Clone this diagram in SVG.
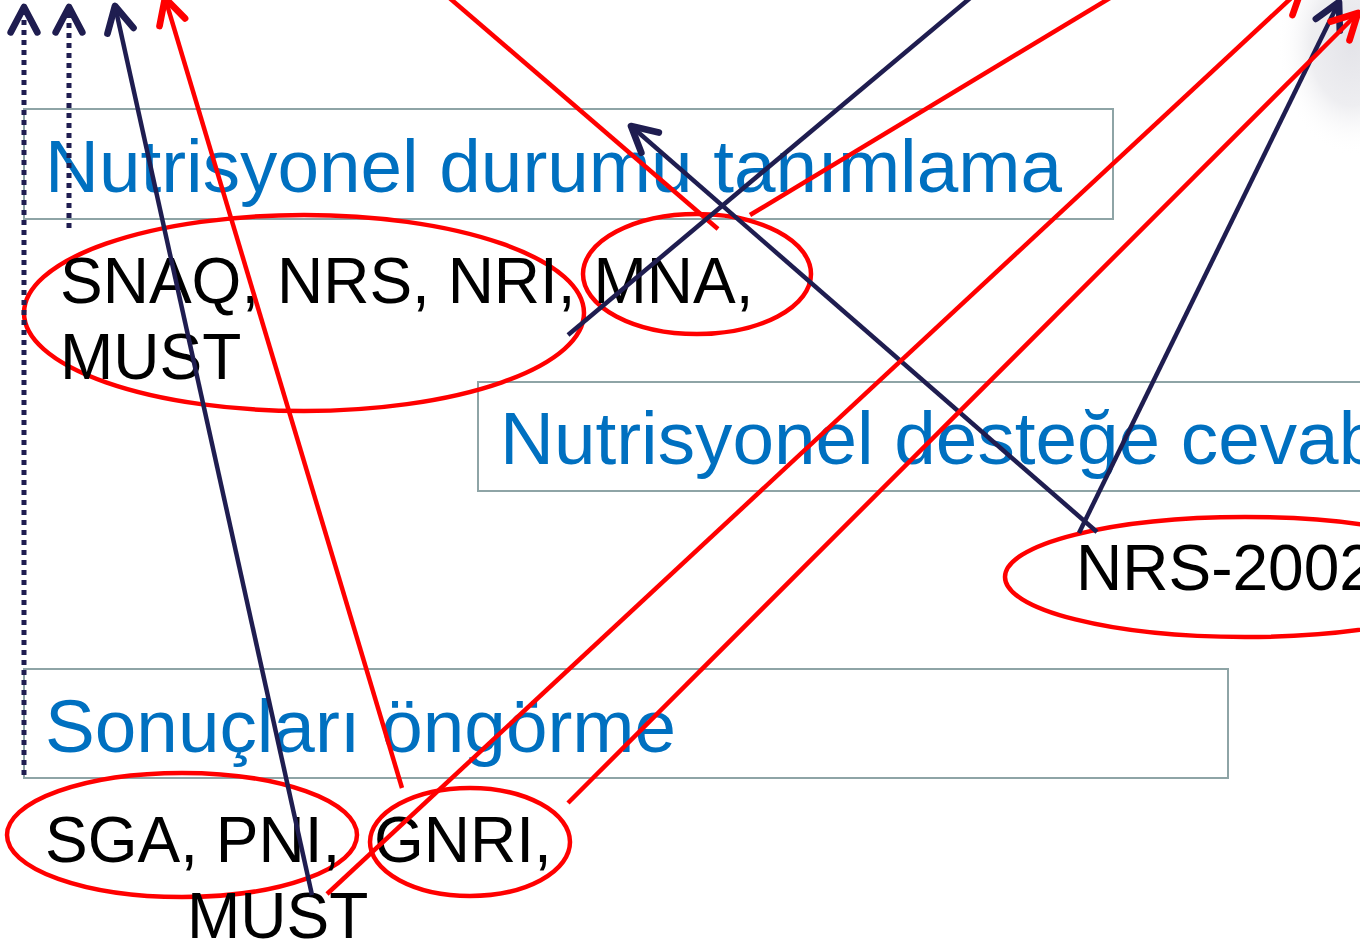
<svg xmlns="http://www.w3.org/2000/svg" width="1360" height="941" viewBox="0 0 1360 941">
<style>
.box{fill:none;stroke:#8ea4a6;stroke-width:2}
.title{font-family:"Liberation Sans",Arial,sans-serif;font-size:74.7px;fill:#0070c0}
.lbl{font-family:"Liberation Sans",Arial,sans-serif;font-size:64px;fill:#000}
.ell{fill:none;stroke:#ff0000;stroke-width:4.5}
.nv{fill:none;stroke:#1f1d50;stroke-width:4.5}
.rd{fill:none;stroke:#ff0000;stroke-width:4.5}
.dot{fill:none;stroke:#1f1d50;stroke-width:5;stroke-dasharray:5 5}
</style>
<defs>
<marker id="an" markerUnits="userSpaceOnUse" orient="auto" markerWidth="40" markerHeight="40" refX="0" refY="0" viewBox="-25 -15 30 30" overflow="visible">
<path d="M-19,-10 L0,0 L-19,10" fill="none" stroke="#1f1d50" stroke-width="5" stroke-linecap="round" stroke-linejoin="round"/>
</marker>
<marker id="ar" markerUnits="userSpaceOnUse" orient="auto" markerWidth="40" markerHeight="40" refX="0" refY="0" viewBox="-25 -15 30 30" overflow="visible">
<path d="M-19,-10 L0,0 L-19,10" fill="none" stroke="#ff0000" stroke-width="5" stroke-linecap="round" stroke-linejoin="round"/>
</marker>
<radialGradient id="gb" cx="0.5" cy="0.5" r="0.5">
<stop offset="0" stop-color="#e4e4e9"/>
<stop offset="0.55" stop-color="#eeeef1"/>
<stop offset="1" stop-color="#ffffff" stop-opacity="0"/>
</radialGradient>
</defs>
<rect width="1360" height="941" fill="#ffffff"/>
<ellipse cx="1352" cy="45" rx="75" ry="110" fill="url(#gb)"/>

<g id="box-tanimlama">
<rect class="box" x="24" y="109" width="1089" height="110"/>
<text class="title" x="45" y="192">Nutrisyonel durumu tanımlama</text>
</g>
<g id="box-cevap">
<rect class="box" x="478" y="382" width="900" height="109"/>
<text class="title" x="500" y="464">Nutrisyonel desteğe cevab</text>
</g>
<g id="box-ongorme">
<rect class="box" x="24" y="669" width="1204" height="109"/>
<text class="title" x="45" y="752">Sonuçları öngörme</text>
</g>

<g id="node-snaq">
<ellipse class="ell" cx="304" cy="313" rx="280" ry="98"/>
</g>
<g id="node-mna">
<ellipse class="ell" cx="697" cy="274" rx="114" ry="60"/>
</g>
<g id="text-top">
<text class="lbl" x="60" y="303">SNAQ, NRS, NRI, MNA,</text>
<text class="lbl" x="60" y="379">MUST</text>
</g>
<g id="node-nrs2002">
<ellipse class="ell" cx="1245" cy="577" rx="240" ry="60"/>
<text class="lbl" x="1076" y="590">NRS-2002</text>
</g>
<g id="node-sga">
<ellipse class="ell" cx="182" cy="835" rx="175" ry="62"/>
</g>
<g id="node-gnri">
<ellipse class="ell" cx="470" cy="842" rx="100" ry="54"/>
</g>
<g id="text-bottom">
<text class="lbl" y="862"><tspan x="45">SGA, PNI,</tspan><tspan x="374">GNRI,</tspan></text>
<text class="lbl" x="187" y="938">MUST</text>
</g>

<g id="connectors">
<path class="dot" d="M24,775 L24,7" marker-end="url(#an)"/>
<path class="dot" d="M69,228 L69,7" marker-end="url(#an)"/>
<path class="nv" d="M312,895 L115,6" marker-end="url(#an)"/>
<path class="rd" d="M402,788 L165,-2" marker-end="url(#ar)"/>
<path class="rd" d="M718,229 L446,-5"/>
<path class="rd" d="M750,215 L1115,-5"/>
<path class="nv" d="M568,335 L975,-6"/>
<path class="nv" d="M1097,532 L631,126" marker-end="url(#an)"/>
<path class="nv" d="M1079,533 L1339,2" marker-end="url(#an)"/>
<path class="rd" d="M327,894 L1302,-12" marker-end="url(#ar)"/>
<path class="rd" d="M568,803 L1358,13" marker-end="url(#ar)"/>
</g>
</svg>
